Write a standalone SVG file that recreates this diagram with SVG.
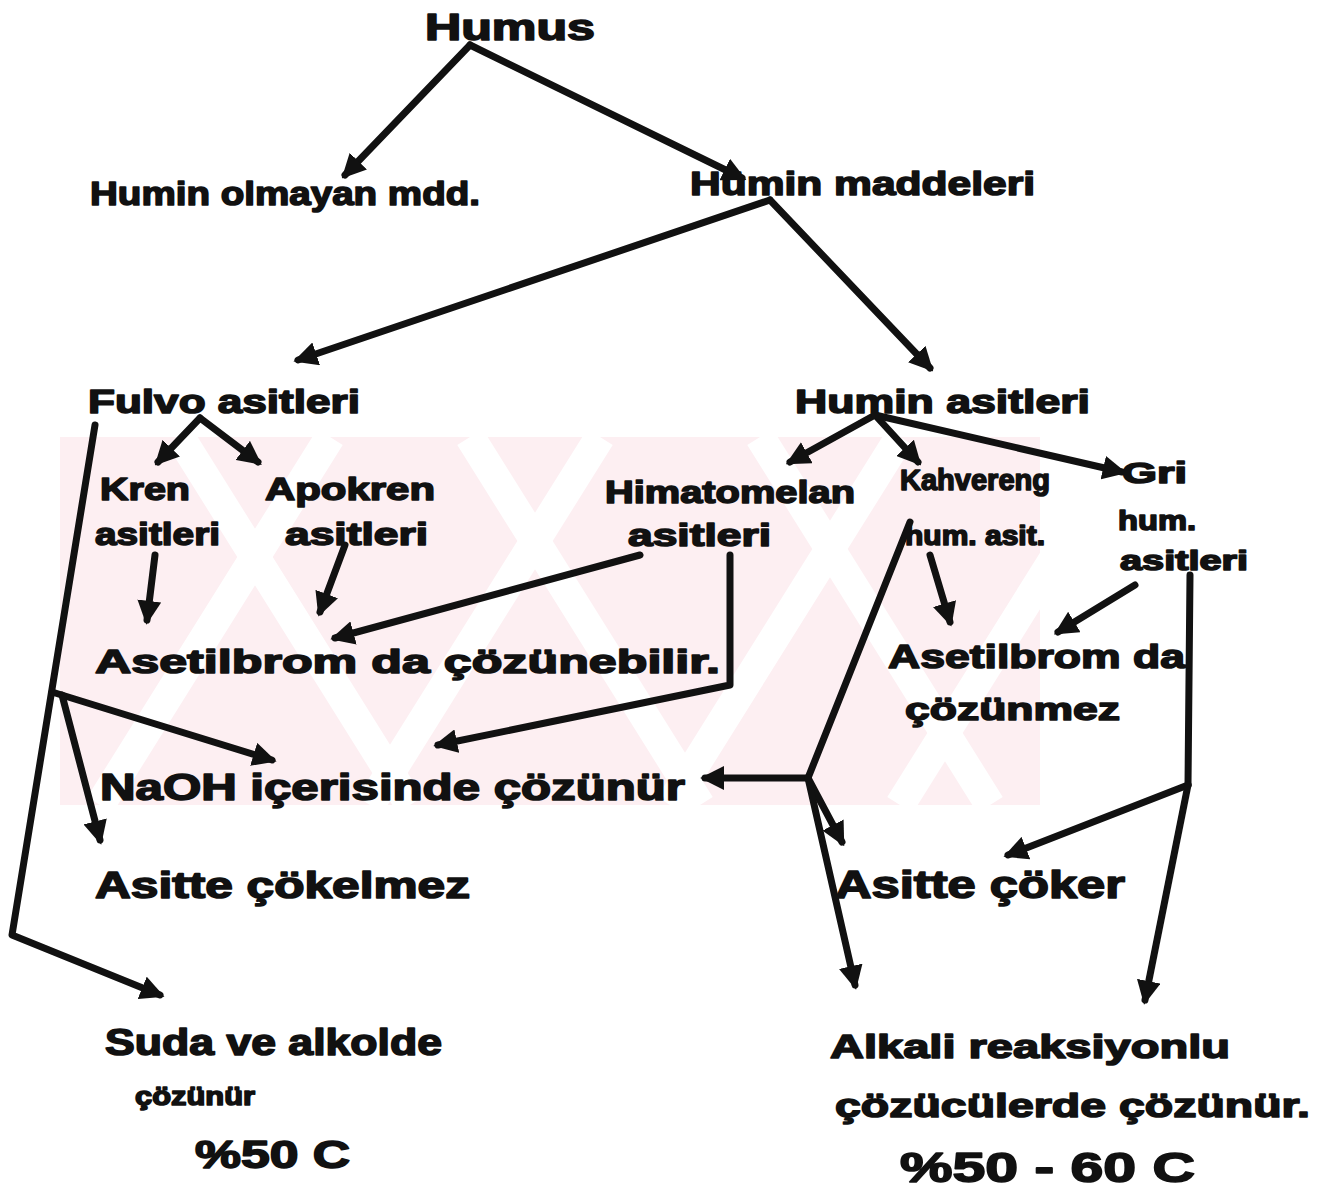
<svg xmlns="http://www.w3.org/2000/svg" width="1332" height="1197" viewBox="0 0 1332 1197">
<style>
text{font-family:"Liberation Sans","DejaVu Sans",sans-serif;font-weight:bold;fill:#111;stroke:#111;stroke-width:1.6;stroke-linejoin:round;}
.c{fill:none;stroke:#111;stroke-width:7;stroke-linecap:round;stroke-linejoin:round;}
.a{marker-end:url(#ah);}
.wm{fill:#fdeff2;}
.ws{stroke:#fff;stroke-width:30;fill:none;}
</style>
<defs>
<marker id="ah" viewBox="0 0 10 10" refX="8" refY="5" markerWidth="24" markerHeight="24" markerUnits="userSpaceOnUse" orient="auto">
<path d="M0,0 L10,5 L0,10 z" fill="#111"/>
</marker>
<clipPath id="wmclip"><rect x="60" y="437" width="980" height="368"/></clipPath>
</defs>
<rect width="1332" height="1197" fill="#fff"/>
<g id="watermark" clip-path="url(#wmclip)">
<rect class="wm" x="60" y="437" width="980" height="368"/>
<path class="ws" d="M330,437 L100,805 M600,437 L370,805 M900,437 L670,805 M1130,437 L900,805"/>
<path class="ws" d="M180,437 L410,805 M470,437 L700,805 M760,437 L990,805"/>
</g>
<g id="connectors">
<path class="c a" d="M470,45 L345,175"/>
<path class="c a" d="M470,45 L742,178"/>
<path class="c a" d="M770,200 L298,360"/>
<path class="c a" d="M770,200 L930,368"/>
<path class="c a" d="M200,418 L158,462"/>
<path class="c a" d="M200,418 L258,462"/>
<path class="c a" d="M155,555 L147,620"/>
<path class="c a" d="M345,545 L320,612"/>
<path class="c a" d="M640,555 L335,638"/>
<path class="c a" d="M730,555 L730,685 L438,745"/>
<path class="c a" d="M95,425 L12,935 L160,995"/>
<path class="c a" d="M52,692 L272,760"/>
<path class="c a" d="M62,695 L100,840"/>
<path class="c a" d="M875,415 L790,462"/>
<path class="c a" d="M875,415 L918,462"/>
<path class="c a" d="M875,415 L1122,472"/>
<path class="c a" d="M930,555 L950,622"/>
<path class="c a" d="M1135,585 L1058,632"/>
<path class="c" d="M910,522 L808,778"/>
<path class="c a" d="M808,778 L705,778"/>
<path class="c a" d="M808,778 L842,842"/>
<path class="c a" d="M808,778 L855,985"/>
<path class="c" d="M1190,575 L1188,785"/>
<path class="c a" d="M1188,785 L1008,855"/>
<path class="c a" d="M1188,785 L1145,1000"/>
</g>
<g id="n-humus"><text x="425" y="40" font-size="36" textLength="170" lengthAdjust="spacingAndGlyphs">Humus</text></g>
<g id="n-humin-olmayan"><text x="90" y="205" font-size="34" textLength="390" lengthAdjust="spacingAndGlyphs">Humin olmayan mdd.</text></g>
<g id="n-humin-maddeleri"><text x="690" y="195" font-size="34" textLength="345" lengthAdjust="spacingAndGlyphs">Hümin maddeleri</text></g>
<g id="n-fulvo"><text x="88" y="413" font-size="34" textLength="272" lengthAdjust="spacingAndGlyphs">Fulvo asitleri</text></g>
<g id="n-humin-asitleri"><text x="795" y="413" font-size="34" textLength="295" lengthAdjust="spacingAndGlyphs">Humin asitleri</text></g>
<g id="n-kren"><text x="100" y="500" font-size="32" textLength="90" lengthAdjust="spacingAndGlyphs">Kren</text><text x="95" y="545" font-size="32" textLength="125" lengthAdjust="spacingAndGlyphs">asitleri</text></g>
<g id="n-apokren"><text x="265" y="500" font-size="32" textLength="170" lengthAdjust="spacingAndGlyphs">Apokren</text><text x="285" y="545" font-size="32" textLength="143" lengthAdjust="spacingAndGlyphs">asitleri</text></g>
<g id="n-himatomelan"><text x="605" y="503" font-size="32" textLength="250" lengthAdjust="spacingAndGlyphs">Himatomelan</text><text x="628" y="546" font-size="32" textLength="143" lengthAdjust="spacingAndGlyphs">asitleri</text></g>
<g id="n-kahverengi"><text x="900" y="490" font-size="30" textLength="150" lengthAdjust="spacingAndGlyphs">Kahvereng</text><text x="905" y="545" font-size="28" textLength="140" lengthAdjust="spacingAndGlyphs">hum. asit.</text></g>
<g id="n-gri"><text x="1122" y="483" font-size="30" textLength="65" lengthAdjust="spacingAndGlyphs">Gri</text><text x="1118" y="530" font-size="28" textLength="78" lengthAdjust="spacingAndGlyphs">hum.</text><text x="1120" y="570" font-size="28" textLength="128" lengthAdjust="spacingAndGlyphs">asitleri</text></g>
<g id="n-asetil-cozunebilir"><text x="95" y="673" font-size="34" textLength="625" lengthAdjust="spacingAndGlyphs">Asetilbrom da  çözünebilir.</text></g>
<g id="n-asetil-cozunmez"><text x="888" y="668" font-size="34" textLength="297" lengthAdjust="spacingAndGlyphs">Asetilbrom da</text><text x="905" y="720" font-size="32" textLength="215" lengthAdjust="spacingAndGlyphs">çözünmez</text></g>
<g id="n-naoh"><text x="100" y="800" font-size="36" textLength="585" lengthAdjust="spacingAndGlyphs">NaOH  içerisinde  çözünür</text></g>
<g id="n-asitte-cokelmez"><text x="95" y="898" font-size="36" textLength="375" lengthAdjust="spacingAndGlyphs">Asitte  çökelmez</text></g>
<g id="n-asitte-coker"><text x="835" y="898" font-size="38" textLength="290" lengthAdjust="spacingAndGlyphs">Asitte çöker</text></g>
<g id="n-suda"><text x="105" y="1055" font-size="36" textLength="337" lengthAdjust="spacingAndGlyphs">Suda ve alkolde</text><text x="135" y="1105" font-size="26" textLength="120" lengthAdjust="spacingAndGlyphs">çözünür</text><text x="195" y="1168" font-size="38" textLength="155" lengthAdjust="spacingAndGlyphs">%50 C</text></g>
<g id="n-alkali"><text x="830" y="1058" font-size="34" textLength="400" lengthAdjust="spacingAndGlyphs">Alkali reaksiyonlu</text><text x="835" y="1117" font-size="34" textLength="475" lengthAdjust="spacingAndGlyphs">çözücülerde  çözünür.</text><text x="900" y="1182" font-size="42" textLength="295" lengthAdjust="spacingAndGlyphs">%50 - 60  C</text></g>
</svg>
